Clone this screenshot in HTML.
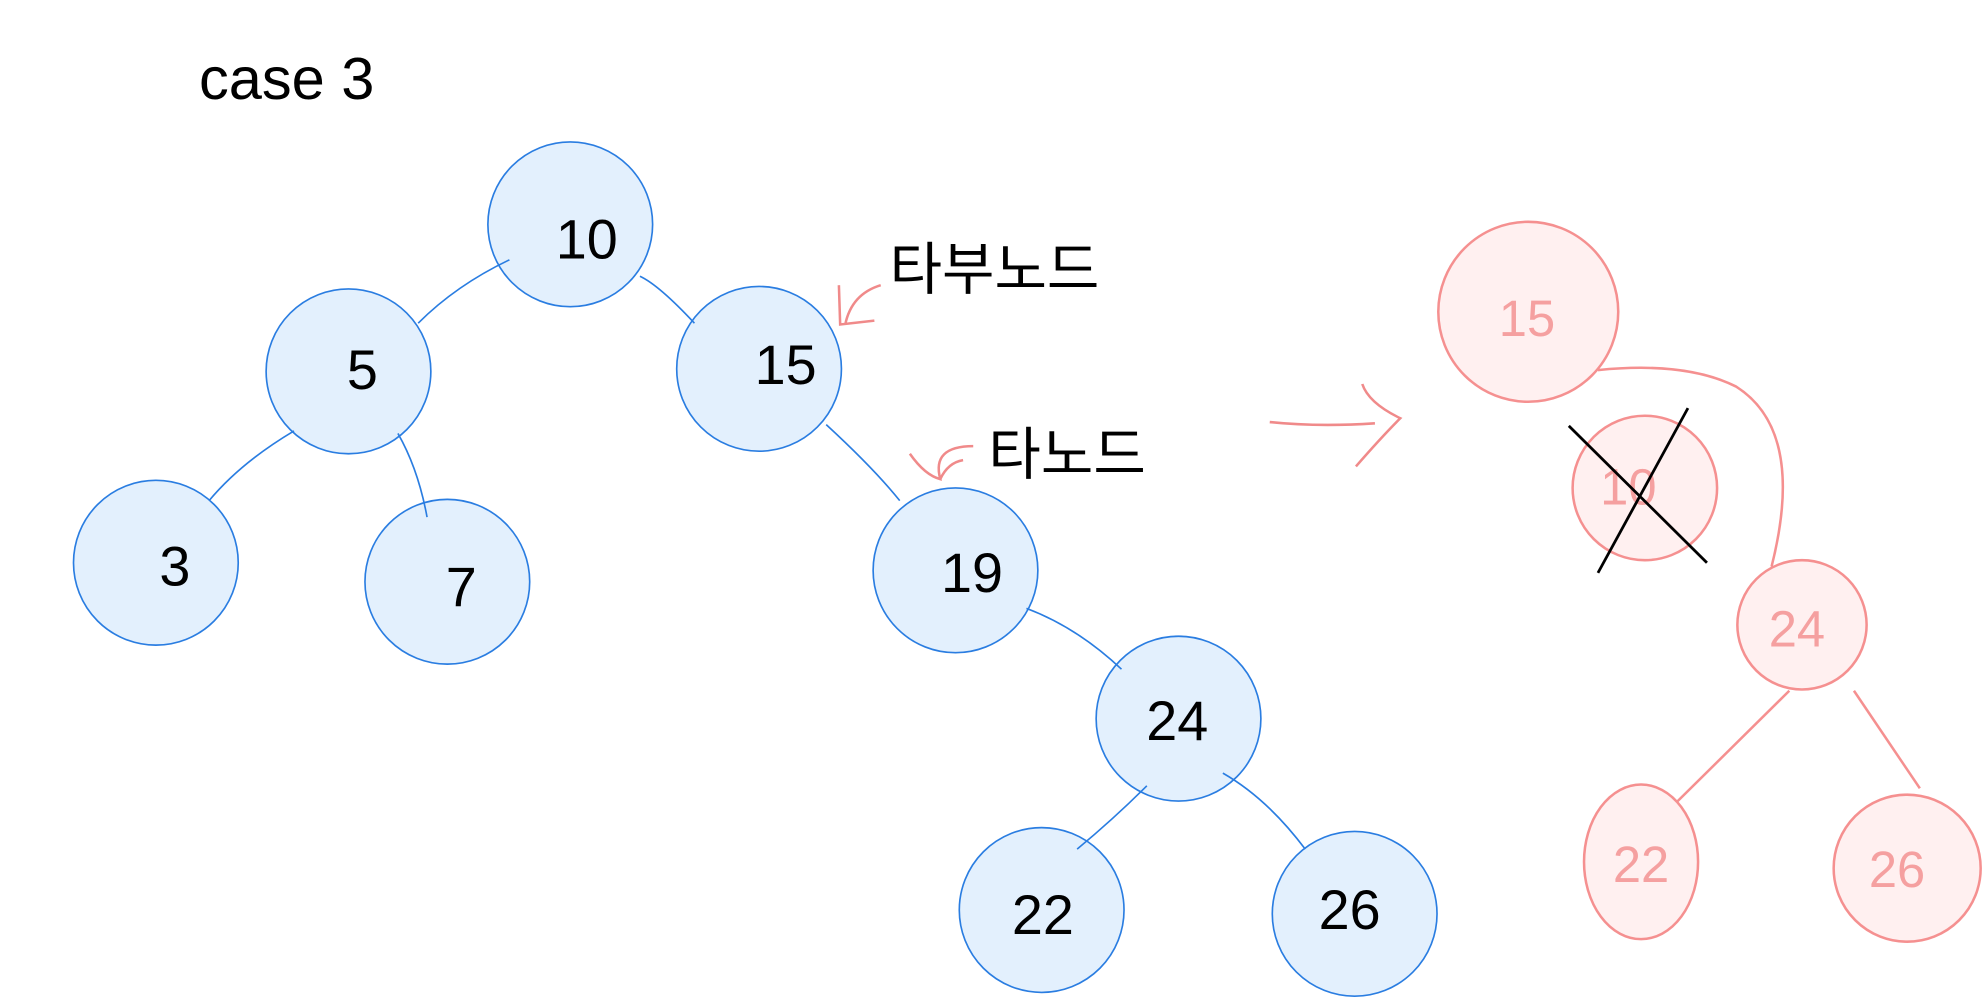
<!DOCTYPE html>
<html><head><meta charset="utf-8"><style>
html,body{margin:0;padding:0;background:#fff;width:1987px;height:1000px;overflow:hidden}
svg{display:block}
</style></head><body>
<svg width="1987" height="1000" viewBox="0 0 1568 789" preserveAspectRatio="none" xmlns="http://www.w3.org/2000/svg">
<g font-family="Liberation Sans, sans-serif">
<text x="157" y="78" font-size="47" fill="#000">case 3</text>
<g fill="#e3f0fd" stroke="#2a7de1" stroke-width="1.3">
<circle cx="450" cy="177" r="65"/>
<circle cx="275" cy="293" r="65"/>
<circle cx="599" cy="291" r="65"/>
<circle cx="123" cy="444" r="65"/>
<circle cx="353" cy="459" r="65"/>
<circle cx="754" cy="450" r="65"/>
<circle cx="930" cy="567" r="65"/>
<circle cx="822" cy="718" r="65"/>
<circle cx="1069" cy="721" r="65"/>
</g>
<g font-size="44" fill="#000" text-anchor="middle">
<text x="463" y="204">10</text>
<text x="286" y="307">5</text>
<text x="620" y="303">15</text>
<text x="138" y="462">3</text>
<text x="364" y="478">7</text>
<text x="767" y="467">19</text>
<text x="929" y="584">24</text>
<text x="823" y="737">22</text>
<text x="1065" y="733">26</text>
</g>
<g fill="none" stroke="#2a7de1" stroke-width="1.3">
<path d="M402 205 Q360 225 330 255"/>
<path d="M505 218 Q520 225 548 255"/>
<path d="M232 340 Q190 365 165 395"/>
<path d="M314 342 Q330 370 337 408"/>
<path d="M652 335 Q690 370 710 395"/>
<path d="M810 480 Q850 495 885 528"/>
<path d="M905 620 Q880 645 850 670"/>
<path d="M965 610 Q1000 630 1030 670"/>
</g>
<g font-family="Liberation Sans, 'Noto Sans CJK KR', sans-serif" font-size="45" fill="#000">
<text x="702" y="228">타부노드</text>
<text x="780" y="374">타노드</text>
</g>
<g fill="none" stroke="#f08a8a" stroke-width="2">
<path d="M695 225 Q672 232 667 256 M662 225 L663 256 L690 253"/>
<path d="M718 358 Q730 375 742 378 Q735 352 768 352 M742 378 Q748 365 760 363"/>
<path d="M1002 333 Q1040 337 1085 334 M1075 303 Q1080 318 1105 330 Q1090 345 1070 368"/>
</g>
<g fill="#fff0f0" stroke="#f59090" stroke-width="2">
<circle cx="1206" cy="246" r="71"/>
<circle cx="1298" cy="385" r="57"/>
<circle cx="1422" cy="493" r="51"/>
<ellipse cx="1295" cy="680" rx="45" ry="61"/>
<circle cx="1505" cy="685" r="58"/>
</g>
<g fill="none" stroke="#f59090" stroke-width="2">
<path d="M1261 292 Q1330 285 1370 305 Q1425 340 1398 447"/>
<path d="M1412 545 L1323 633"/>
<path d="M1463 545 L1515 622"/>
</g>
<g font-size="40" fill="#f5a0a0" text-anchor="middle" font-weight="300">
<text x="1205" y="265">15</text>
<text x="1285" y="398">10</text>
<text x="1418" y="510">24</text>
<text x="1295" y="696">22</text>
<text x="1497" y="700">26</text>
</g>
<g stroke="#000" stroke-width="2.2">
<line x1="1238" y1="336" x2="1347" y2="444"/>
<line x1="1332" y1="322" x2="1261" y2="452"/>
</g>
</g>
</svg>
</body></html>
